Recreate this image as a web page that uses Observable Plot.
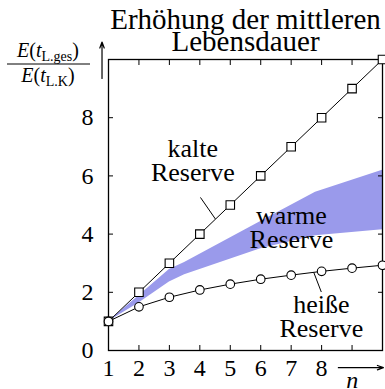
<!DOCTYPE html>
<html>
<head>
<meta charset="utf-8">
<script src="https://cdn.jsdelivr.net/npm/d3@7"></script>
<script src="https://cdn.jsdelivr.net/npm/@observablehq/plot@0.6"></script>
<style>
  html, body { margin: 0; padding: 0; background: #fff; }
  svg { display: block; }
  svg text { font-family: "Liberation Serif", "Times New Roman", serif !important; }
</style>
</head>
<body>
<div id="chart"></div>
<script>
// ---- data ----
const n = [1, 2, 3, 4, 5, 6, 7, 8, 9, 10];
const kalte = [1, 2, 3, 4, 5, 6, 7, 8, 9, 10];
const heisse = [1, 1.5, 1.83, 2.08, 2.28, 2.45, 2.59, 2.72, 2.83, 2.93];
const warmX = [1, 2, 3, 3.5, 6, 7.8, 10];
const warmLow = [1, 1.63, 2.35, 2.6, 3.5, 3.94, 4.15];
const warmHigh = [1, 1.88, 2.78, 3.02, 4.43, 5.44, 6.19];
const xTickLabels = [1, 2, 3, 4, 5, 6, 7, 8];
const yTickLabels = [0, 2, 4, 6, 8];
const yTicks = [0, 2, 4, 6, 8, 10];
const titleLines = ["Erhöhung der mittleren", "Lebensdauer"];
const labelText = ["kalte\nReserve", "warme\nReserve", "heiße\nReserve"];
const labelX = [3.77, 7.01, 7.99];
const labelY = [5.83, 3.53, 0.46];
const leaderX1 = [4.02, 7.74];
const leaderY1 = [5.26, 2.69];
const leaderX2 = [4.51, 7.99];
const leaderY2 = [4.52, 2.01];
const axisArrowX1 = [8.55, 0.787];
const axisArrowY1 = [-0.59, 9.35];
const axisArrowX2 = [10.03, 0.787];
const axisArrowY2 = [-0.59, 10.6];
const nLabel = {text: "n", x: 9.01, y: -1.3};

// ---- tables ----
const kalteData = n.map((v, i) => ({n: v, y: kalte[i]}));
const heisseData = n.map((v, i) => ({n: v, y: heisse[i]}));
const warmData = warmX.map((v, i) => ({n: v, lo: warmLow[i], hi: warmHigh[i]}));
const labels = labelText.map((t, i) => ({t, x: labelX[i], y: labelY[i]}));
const leaders = leaderX1.map((v, i) => ({x1: v, y1: leaderY1[i], x2: leaderX2[i], y2: leaderY2[i]}));
const arrows = axisArrowX1.map((v, i) => ({x1: v, y1: axisArrowY1[i], x2: axisArrowX2[i], y2: axisArrowY2[i]}));

const font = "'Liberation Serif', 'Times New Roman', serif";

const chart = Plot.plot({
  width: 385,
  height: 389,
  marginLeft: 108,
  marginRight: 3,
  marginTop: 59,
  marginBottom: 39,
  style: {fontFamily: font, fontSize: "24px", background: "white", color: "black"},
  x: {domain: [1, 10], axis: null},
  y: {domain: [0, 10], axis: null},
  marks: [
    Plot.areaY(warmData, {x: "n", y1: "lo", y2: "hi", fill: "#9a9aeb", fillOpacity: 1}),
    // ticks (inward) on all four sides
    Plot.axisX(n, {anchor: "bottom", tickSize: -5, tickFormat: () => "", strokeWidth: 1}),
    Plot.axisX(n, {anchor: "top", tickSize: -5, tickFormat: () => "", strokeWidth: 1}),
    Plot.axisY(yTicks, {anchor: "left", tickSize: -5, tickFormat: () => "", strokeWidth: 1}),
    Plot.axisY(yTicks, {anchor: "right", tickSize: -5, tickFormat: () => "", strokeWidth: 1}),
    // tick labels
    Plot.axisX(xTickLabels, {anchor: "bottom", tickSize: 0, tickPadding: 8, fontSize: 24}),
    Plot.axisY(yTickLabels, {anchor: "left", tickSize: 0, tickPadding: 15, fontSize: 24}),
    Plot.frame({stroke: "black", strokeWidth: 1.3}),
    // series
    Plot.line(kalteData, {x: "n", y: "y", stroke: "black", strokeWidth: 1}),
    Plot.dot(kalteData, {x: "n", y: "y", symbol: "square", r: 4.8, stroke: "black", fill: "white", strokeWidth: 1.1}),
    Plot.line(heisseData, {x: "n", y: "y", stroke: "black", strokeWidth: 1}),
    Plot.dot(heisseData, {x: "n", y: "y", symbol: "circle", r: 4.3, stroke: "black", fill: "white", strokeWidth: 1.1}),
    // annotations
    Plot.link(leaders, {x1: "x1", y1: "y1", x2: "x2", y2: "y2", stroke: "black", strokeWidth: 1}),
    Plot.text(labels, {x: "x", y: "y", text: "t", lineAnchor: "bottom", lineHeight: 0.93, fontSize: 26, fill: "black"}),
    // axis arrows
    Plot.arrow(arrows, {x1: "x1", y1: "y1", x2: "x2", y2: "y2", stroke: "black", strokeWidth: 1.2, headLength: 8, headAngle: 40}),
    Plot.text([nLabel], {x: "x", y: "y", text: "text", lineAnchor: "bottom", fontSize: 24, fontStyle: "italic", fill: "black"}),
    // title
    Plot.text([titleLines[0]], {frameAnchor: "top", text: d => d, lineAnchor: "bottom", dy: -31, fontSize: 29, fill: "black"}),
    Plot.text([titleLines[1]], {frameAnchor: "top", text: d => d, lineAnchor: "bottom", dy: -9, fontSize: 29, fill: "black"})
  ]
});

document.getElementById("chart").appendChild(chart);

// y-axis label as a fraction E(t_L.ges) / E(t_L.K)
const svg = d3.select(chart);
const g = svg.append("g").attr("fill", "black");
function frac(y, sub) {
  const t = g.append("text").attr("x", 48).attr("y", y).attr("text-anchor", "middle").attr("font-size", 20);
  t.append("tspan").attr("font-style", "italic").text("E");
  t.append("tspan").text("(");
  t.append("tspan").attr("font-style", "italic").text("t");
  t.append("tspan").attr("font-size", 14).attr("dy", 4).text(sub);
  t.append("tspan").attr("dy", -4).text(")");
}
frac(57, "L.ges");
g.append("line").attr("x1", 7).attr("x2", 90).attr("y1", 64).attr("y2", 64).attr("stroke", "black").attr("stroke-width", 1);
frac(82, "L.K");
</script>
</body>
</html>
